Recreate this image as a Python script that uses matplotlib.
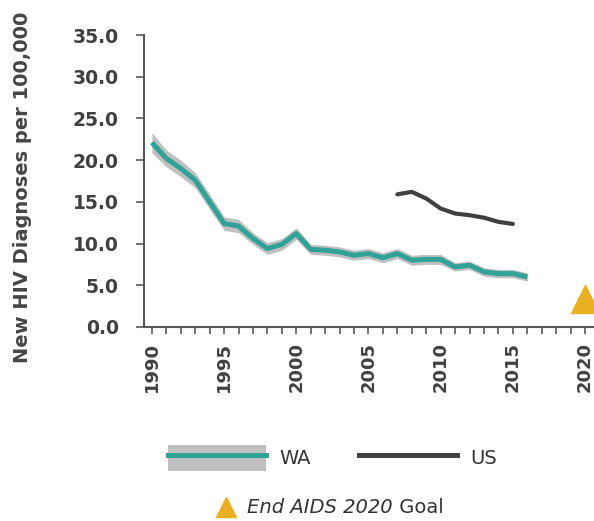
import matplotlib
matplotlib.use("Agg")
import matplotlib.pyplot as plt
from matplotlib.patches import Patch
from matplotlib.lines import Line2D
from matplotlib.legend_handler import HandlerTuple

plt.rcParams['font.family'] = ['DejaVu Sans']

# data
wa_years = list(range(1990, 2017))
wa_rate = [22.1, 20.2, 19.0, 17.6, 15.0, 12.4, 12.1, 10.6, 9.4, 9.9, 11.2, 9.3, 9.2,
           9.0, 8.6, 8.8, 8.3, 8.8, 8.0, 8.1, 8.1, 7.2, 7.4, 6.6, 6.4, 6.4, 6.0]
wa_upper = [23.3, 21.2, 20.0, 18.5, 15.9, 13.2, 12.9, 11.3, 10.1, 10.6, 11.9, 9.9, 9.8,
            9.6, 9.2, 9.4, 8.9, 9.4, 8.6, 8.7, 8.7, 7.7, 7.9, 7.1, 6.9, 6.9, 6.5]
wa_lower = [20.9, 19.2, 18.0, 16.7, 14.1, 11.6, 11.3, 9.9, 8.7, 9.2, 10.5, 8.7, 8.6,
            8.4, 8.0, 8.2, 7.7, 8.2, 7.4, 7.5, 7.5, 6.7, 6.9, 6.1, 5.9, 5.9, 5.5]
us_years = list(range(2007, 2016))
us_rate = [15.9, 16.2, 15.4, 14.2, 13.6, 13.4, 13.1, 12.6, 12.35]
goal_year = [2020]
goal_rate = [3.4]

teal = '#31a297'
band = '#bfbfbf'
usc = '#404040'
gold = '#ebb022'
axc = '#595959'

fig = plt.figure(figsize=(5.94, 5.21), dpi=100)
ax = fig.add_axes([0.2424, 0.3724, 0.7576, 0.5604])

ax.fill_between(wa_years, wa_lower, wa_upper, color=band, lw=0)
ax.plot(wa_years, wa_rate, color=teal, lw=3.6, solid_capstyle='butt')
ax.plot(us_years, us_rate, color=usc, lw=3.0, solid_capstyle='round')
ax.plot(goal_year, goal_rate, linestyle='none', marker='^', markersize=20,
        color=gold, clip_on=False)

ax.set_xlim(1989.45, 2020.62)
ax.set_ylim(0, 35)
ax.set_yticks([0, 5, 10, 15, 20, 25, 30, 35])
ax.set_yticklabels(['%.1f' % v for v in [0, 5, 10, 15, 20, 25, 30, 35]])
ax.set_xticks(range(1990, 2021, 5))
ax.set_xticks(range(1990, 2021), minor=True)

for s in ['top', 'right']:
    ax.spines[s].set_visible(False)
for s in ['left', 'bottom']:
    ax.spines[s].set_color(axc)
    ax.spines[s].set_linewidth(1.5)

ax.tick_params(axis='y', length=6, width=1.2, color=axc, pad=12,
               labelsize=13.5, labelcolor='#404040')
ax.tick_params(axis='x', which='both', length=5, width=1.2, color=axc, pad=6,
               labelsize=13, labelcolor='#404040', labelrotation=90)
for lab in ax.get_xticklabels() + ax.get_yticklabels():
    lab.set_fontweight('bold')

ax.set_ylabel('New HIV Diagnoses per 100,000', fontsize=14, fontweight='bold',
              color='#454545')
ax.yaxis.set_label_coords(-0.248, 0.479)

wa_handle = (Patch(facecolor=band, edgecolor='none'),
             Line2D([], [], color=teal, lw=3.6))
us_handle = Line2D([], [], color=usc, lw=3.6)
leg1 = fig.legend([wa_handle, us_handle], ['WA', 'US'], loc='center',
                  bbox_to_anchor=(0.56, 0.121), ncol=2, frameon=False,
                  fontsize=14, handlelength=5.0, handleheight=1.65,
                  handletextpad=0.7, columnspacing=2.5,
                  handler_map={tuple: HandlerTuple(ndivide=1)})
for t in leg1.get_texts():
    t.set_color('#333333')

goal_handle = Line2D([], [], linestyle='none', marker='^', markersize=15,
                     color=gold)
leg2 = fig.legend([goal_handle], ['End AIDS 2020'], loc='center',
                  bbox_to_anchor=(0.513, 0.025), frameon=False, fontsize=14,
                  handlelength=1.0, handletextpad=0.6)
goal_txt = leg2.get_texts()[0]
goal_txt.set_color('#333333')
goal_txt.set_fontstyle('italic')

fig.canvas.draw()
fig.add_artist(matplotlib.text.Annotation(' Goal', xy=(1, 0), xycoords=goal_txt,
                                          va='bottom', ha='left', fontsize=14,
                                          color='#333333', zorder=10))

fig.savefig('out.png', dpi=100)
